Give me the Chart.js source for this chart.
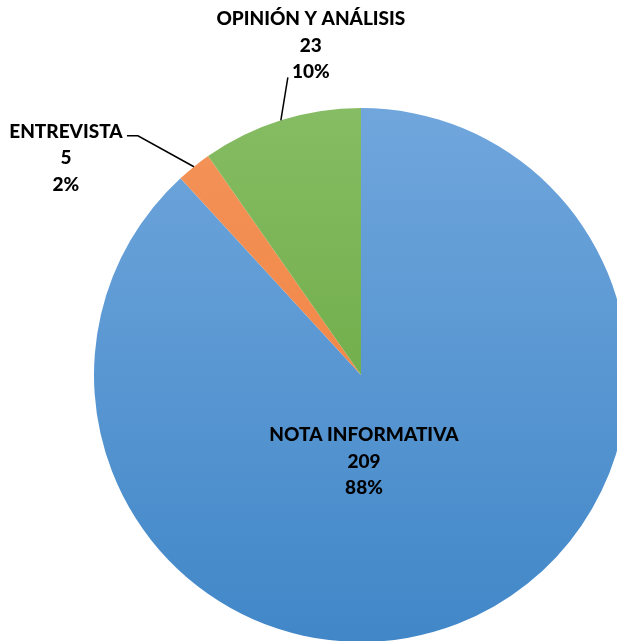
<!DOCTYPE html>
<html lang="es">
<head>
<meta charset="utf-8">
<title>Géneros periodísticos</title>
<script src="https://cdn.jsdelivr.net/npm/chart.js@4.4.1/dist/chart.umd.min.js"></script>
<style>
    html, body { margin: 0; padding: 0; width: 617px; height: 641px; overflow: hidden; background: #ffffff; }
    #wrap { position: absolute; left: 0; top: 0; width: 640px; height: 660px; }
</style>
</head>
<body>
<div id="wrap"><canvas id="generosChart" width="640" height="660"></canvas></div>
<script>
// Datos
const categorias = ['NOTA INFORMATIVA', 'ENTREVISTA', 'OPINIÓN Y ANÁLISIS'];
const valores = [209, 5, 23];

// Colores de cada sector (arriba / abajo del degradado)
const coloresArriba = ['#70a6dc', '#f4935a', '#86bc63'];
const coloresAbajo = ['#4187c8', '#ee7d36', '#5fa236'];

// Posición de las etiquetas: 'dentro' se mide desde el centro del pastel,
// 'fuera' desde el borde del sector, con una línea guía
const etiquetas = [
    { modo: 'dentro', dx: 3, dy: 60 },
    { modo: 'fuera', dx: -128, dy: -35, guia: [[-56, -31], [-67, -31]] },
    { modo: 'fuera', dx: 30, dy: -101, guia: [[7, -43]] }
];

const total = valores.reduce((a, b) => a + b, 0);
const FUENTE = '900 19px Lato, "Liberation Sans", sans-serif';
const INTERLINEA = 26.5;

function degradado(context, i) {
    const area = context.chart.chartArea;
    if (!area) return coloresAbajo[i];
    const g = context.chart.ctx.createLinearGradient(0, area.top, 0, area.bottom);
    g.addColorStop(0, coloresArriba[i]);
    g.addColorStop(1, coloresAbajo[i]);
    return g;
}

const etiquetasPlugin = {
    id: 'etiquetasPastel',
    afterDatasetsDraw(chart) {
        const ctx = chart.ctx;
        const meta = chart.getDatasetMeta(0);
        ctx.save();
        ctx.font = FUENTE;
        ctx.fillStyle = '#000000';
        ctx.strokeStyle = '#000000';
        ctx.lineWidth = 1.5;
        ctx.textAlign = 'center';
        ctx.textBaseline = 'middle';
        meta.data.forEach((arc, i) => {
            const conf = etiquetas[i];
            const medio = (arc.startAngle + arc.endAngle) / 2;
            let baseX, baseY;
            if (conf.modo === 'dentro') {
                baseX = arc.x;
                baseY = arc.y;
            } else {
                baseX = arc.x + Math.cos(medio) * arc.outerRadius;
                baseY = arc.y + Math.sin(medio) * arc.outerRadius;
                ctx.beginPath();
                ctx.moveTo(baseX, baseY);
                conf.guia.forEach(p => ctx.lineTo(baseX + p[0], baseY + p[1]));
                ctx.stroke();
            }
            const pct = Math.round(valores[i] / total * 100) + '%';
            const lineas = [categorias[i], String(valores[i]), pct];
            lineas.forEach((t, k) => {
                ctx.fillText(t, baseX + conf.dx, baseY + conf.dy + k * INTERLINEA);
            });
        });
        ctx.restore();
    }
};

new Chart(document.getElementById('generosChart'), {
    type: 'pie',
    data: {
        labels: categorias,
        datasets: [{
            data: valores,
            backgroundColor: ctx => degradado(ctx, ctx.dataIndex),
            borderWidth: 0
        }]
    },
    options: {
        responsive: false,
        animation: false,
        layout: { padding: { left: 94, right: 12, top: 108, bottom: 18 } },
        plugins: {
            legend: { display: false },
            tooltip: { enabled: false }
        }
    },
    plugins: [etiquetasPlugin]
});
</script>
</body>
</html>
